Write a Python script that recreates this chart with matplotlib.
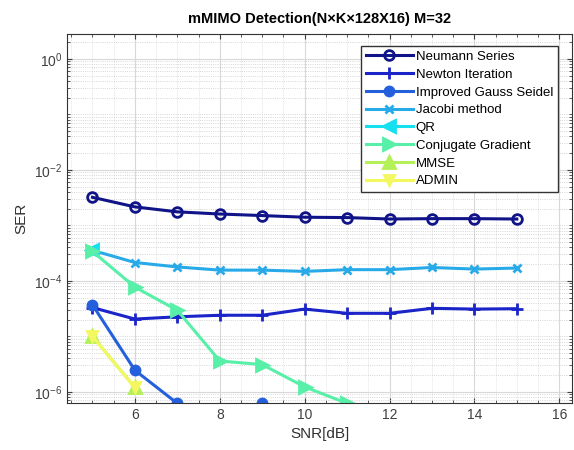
import numpy as np
import matplotlib
matplotlib.use("Agg")
import matplotlib.pyplot as plt
from matplotlib.ticker import LogLocator, FixedLocator, NullFormatter

plt.rcParams['font.family'] = ['Liberation Sans', 'DejaVu Sans']

snr = [5, 6, 7, 8, 9, 10, 11, 12, 13, 14, 15]
nan = np.nan
neumann = [3.2e-3, 2.15e-3, 1.75e-3, 1.6e-3, 1.5e-3, 1.4e-3, 1.38e-3, 1.3e-3, 1.32e-3, 1.32e-3, 1.3e-3]
newton = [3.3e-5, 2.05e-5, 2.25e-5, 2.4e-5, 2.4e-5, 3.1e-5, 2.6e-5, 2.6e-5, 3.2e-5, 3.1e-5, 3.15e-5]
gauss_seidel = [3.7e-5, 2.45e-6, 6.2e-7, nan, 6.2e-7, nan, nan, nan, nan, nan, nan]
jacobi = [3.55e-4, 2.14e-4, 1.78e-4, 1.56e-4, 1.56e-4, 1.48e-4, 1.59e-4, 1.59e-4, 1.74e-4, 1.63e-4, 1.7e-4]
qr = [3.6e-4, nan, nan, nan, nan, nan, nan, nan, nan, nan, nan]
cg = [3.4e-4, 7.7e-5, 2.95e-5, 3.6e-6, 3.1e-6, 1.23e-6, 6.2e-7, nan, nan, nan, nan]
mmse = [1.0e-5, 1.2e-6, nan, nan, nan, nan, nan, nan, nan, nan, nan]
admin = [1.0e-5, 1.2e-6, nan, nan, nan, nan, nan, nan, nan, nan, nan]

labels = ['Neumann Series', 'Newton Iteration', 'Improved Gauss Seidel', 'Jacobi method',
          'QR', 'Conjugate Gradient', 'MMSE', 'ADMIN']
series = [neumann, newton, gauss_seidel, jacobi, qr, cg, mmse, admin]
colors = ['#101488', '#1a24c8', '#2560dc', '#28aae8', '#14e0f0', '#58f0a8', '#b4f058', '#f4f860']
markers = ['o', '+', 'o', 'x', '<', '>', '^', 'v']
mfill = ['none', 'full', 'full', 'full', 'full', 'full', 'full', 'full']
msizes = [7, 8, 6.5, 5.5, 8, 8, 8, 7]

fig = plt.figure(figsize=(5.74, 4.5), dpi=100)
ax = fig.add_axes([67/574, 1-403/450, (572-67)/574, (403-34)/450])

for y, lab, c, m, mf, ms in zip(series, labels, colors, markers, mfill, msizes):
    kw = dict(color=c, lw=2.2, marker=m, markersize=ms, label=lab, markeredgewidth=2)
    if mf == 'none':
        kw.update(markerfacecolor='none')
    ax.semilogy(snr, y, **kw)

ax.set_xlim(4.4, 16.3)
ax.set_ylim(6.3e-7, 2.8)
ax.set_xticks([6, 8, 10, 12, 14, 16])
ax.yaxis.set_major_locator(FixedLocator([1e-6, 1e-4, 1e-2, 1e0]))
ax.yaxis.set_minor_locator(LogLocator(base=10, subs=np.arange(1, 10), numticks=20))
ax.yaxis.set_minor_formatter(NullFormatter())
ax.grid(True, which='major', color='#d8d8d8', lw=0.8, ls='-')
ax.grid(True, which='minor', axis='y', color='#c8c8c8', lw=0.6, ls=':')
ax.xaxis.set_minor_locator(FixedLocator(np.arange(4.5, 16.5, 0.5)))
ax.grid(True, which='minor', axis='x', color='#d0d0d0', lw=0.5, ls=':')
ax.tick_params(which='both', direction='in', top=True, right=True, labelsize=10, colors='#404040')
ax.tick_params(which='minor', length=2)
for s in ax.spines.values():
    s.set_color('#333333')

ax.set_title('mMIMO Detection(N×K×128X16) M=32', fontsize=10.5, fontweight='bold', pad=8)
ax.set_xlabel('SNR[dB]', fontsize=11, color='#303030')
ax.set_ylabel('SER', fontsize=11, color='#303030')

leg = ax.legend(loc='upper right', fontsize=9.5, handlelength=3.6, labelspacing=0.42,
                borderpad=0.35, handletextpad=0.2, fancybox=False, framealpha=1,
                edgecolor='#333333', bbox_to_anchor=(0.985, 0.985))
leg.get_frame().set_linewidth(1.0)

fig.savefig('out.png', dpi=100)
